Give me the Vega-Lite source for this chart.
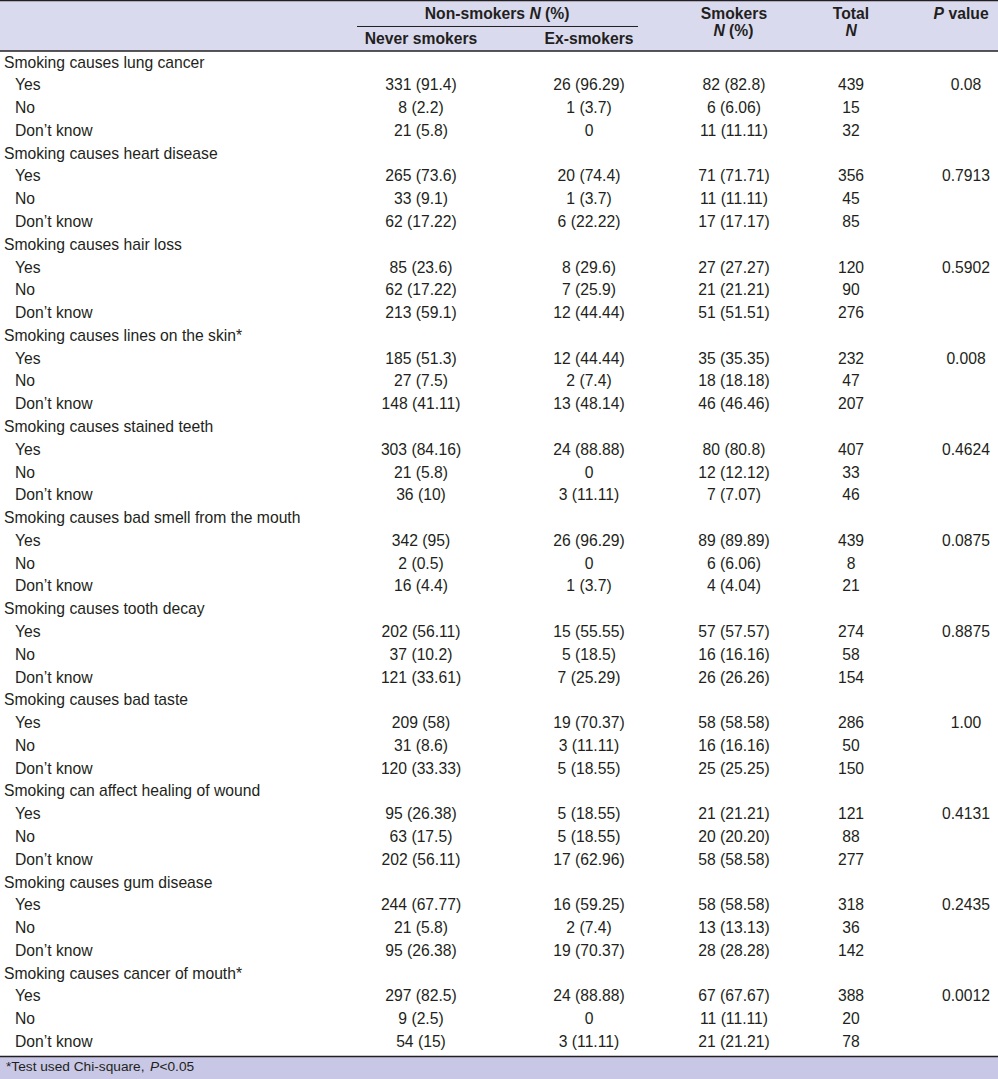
{
  "$schema": "https://vega.github.io/schema/vega-lite/v6.json",
  "width": 998,
  "height": 1079,
  "autosize": "none",
  "padding": 0,
  "background": "white",
  "config": {
    "view": {"stroke": null},
    "text": {"font": "Liberation Sans", "fontSize": 15.7, "fill": "#231f20", "baseline": "middle"}
  },
  "datasets": {
    "rows": [
      {"r": 0, "lvl": 1, "label": "Smoking causes lung cancer"},
      {"r": 1, "lvl": 2, "label": "Yes", "nv": "331 (91.4)", "ex": "26 (96.29)", "sm": "82 (82.8)", "tot": "439", "p": "0.08"},
      {"r": 2, "lvl": 2, "label": "No", "nv": "8 (2.2)", "ex": "1 (3.7)", "sm": "6 (6.06)", "tot": "15"},
      {"r": 3, "lvl": 2, "label": "Don’t know", "nv": "21 (5.8)", "ex": "0", "sm": "11 (11.11)", "tot": "32"},
      {"r": 4, "lvl": 1, "label": "Smoking causes heart disease"},
      {"r": 5, "lvl": 2, "label": "Yes", "nv": "265 (73.6)", "ex": "20 (74.4)", "sm": "71 (71.71)", "tot": "356", "p": "0.7913"},
      {"r": 6, "lvl": 2, "label": "No", "nv": "33 (9.1)", "ex": "1 (3.7)", "sm": "11 (11.11)", "tot": "45"},
      {"r": 7, "lvl": 2, "label": "Don’t know", "nv": "62 (17.22)", "ex": "6 (22.22)", "sm": "17 (17.17)", "tot": "85"},
      {"r": 8, "lvl": 1, "label": "Smoking causes hair loss"},
      {"r": 9, "lvl": 2, "label": "Yes", "nv": "85 (23.6)", "ex": "8 (29.6)", "sm": "27 (27.27)", "tot": "120", "p": "0.5902"},
      {"r": 10, "lvl": 2, "label": "No", "nv": "62 (17.22)", "ex": "7 (25.9)", "sm": "21 (21.21)", "tot": "90"},
      {"r": 11, "lvl": 2, "label": "Don’t know", "nv": "213 (59.1)", "ex": "12 (44.44)", "sm": "51 (51.51)", "tot": "276"},
      {"r": 12, "lvl": 1, "label": "Smoking causes lines on the skin*"},
      {"r": 13, "lvl": 2, "label": "Yes", "nv": "185 (51.3)", "ex": "12 (44.44)", "sm": "35 (35.35)", "tot": "232", "p": "0.008"},
      {"r": 14, "lvl": 2, "label": "No", "nv": "27 (7.5)", "ex": "2 (7.4)", "sm": "18 (18.18)", "tot": "47"},
      {"r": 15, "lvl": 2, "label": "Don’t know", "nv": "148 (41.11)", "ex": "13 (48.14)", "sm": "46 (46.46)", "tot": "207"},
      {"r": 16, "lvl": 1, "label": "Smoking causes stained teeth"},
      {"r": 17, "lvl": 2, "label": "Yes", "nv": "303 (84.16)", "ex": "24 (88.88)", "sm": "80 (80.8)", "tot": "407", "p": "0.4624"},
      {"r": 18, "lvl": 2, "label": "No", "nv": "21 (5.8)", "ex": "0", "sm": "12 (12.12)", "tot": "33"},
      {"r": 19, "lvl": 2, "label": "Don’t know", "nv": "36 (10)", "ex": "3 (11.11)", "sm": "7 (7.07)", "tot": "46"},
      {"r": 20, "lvl": 1, "label": "Smoking causes bad smell from the mouth"},
      {"r": 21, "lvl": 2, "label": "Yes", "nv": "342 (95)", "ex": "26 (96.29)", "sm": "89 (89.89)", "tot": "439", "p": "0.0875"},
      {"r": 22, "lvl": 2, "label": "No", "nv": "2 (0.5)", "ex": "0", "sm": "6 (6.06)", "tot": "8"},
      {"r": 23, "lvl": 2, "label": "Don’t know", "nv": "16 (4.4)", "ex": "1 (3.7)", "sm": "4 (4.04)", "tot": "21"},
      {"r": 24, "lvl": 1, "label": "Smoking causes tooth decay"},
      {"r": 25, "lvl": 2, "label": "Yes", "nv": "202 (56.11)", "ex": "15 (55.55)", "sm": "57 (57.57)", "tot": "274", "p": "0.8875"},
      {"r": 26, "lvl": 2, "label": "No", "nv": "37 (10.2)", "ex": "5 (18.5)", "sm": "16 (16.16)", "tot": "58"},
      {"r": 27, "lvl": 2, "label": "Don’t know", "nv": "121 (33.61)", "ex": "7 (25.29)", "sm": "26 (26.26)", "tot": "154"},
      {"r": 28, "lvl": 1, "label": "Smoking causes bad taste"},
      {"r": 29, "lvl": 2, "label": "Yes", "nv": "209 (58)", "ex": "19 (70.37)", "sm": "58 (58.58)", "tot": "286", "p": "1.00"},
      {"r": 30, "lvl": 2, "label": "No", "nv": "31 (8.6)", "ex": "3 (11.11)", "sm": "16 (16.16)", "tot": "50"},
      {"r": 31, "lvl": 2, "label": "Don’t know", "nv": "120 (33.33)", "ex": "5 (18.55)", "sm": "25 (25.25)", "tot": "150"},
      {"r": 32, "lvl": 1, "label": "Smoking can affect healing of wound"},
      {"r": 33, "lvl": 2, "label": "Yes", "nv": "95 (26.38)", "ex": "5 (18.55)", "sm": "21 (21.21)", "tot": "121", "p": "0.4131"},
      {"r": 34, "lvl": 2, "label": "No", "nv": "63 (17.5)", "ex": "5 (18.55)", "sm": "20 (20.20)", "tot": "88"},
      {"r": 35, "lvl": 2, "label": "Don’t know", "nv": "202 (56.11)", "ex": "17 (62.96)", "sm": "58 (58.58)", "tot": "277"},
      {"r": 36, "lvl": 1, "label": "Smoking causes gum disease"},
      {"r": 37, "lvl": 2, "label": "Yes", "nv": "244 (67.77)", "ex": "16 (59.25)", "sm": "58 (58.58)", "tot": "318", "p": "0.2435"},
      {"r": 38, "lvl": 2, "label": "No", "nv": "21 (5.8)", "ex": "2 (7.4)", "sm": "13 (13.13)", "tot": "36"},
      {"r": 39, "lvl": 2, "label": "Don’t know", "nv": "95 (26.38)", "ex": "19 (70.37)", "sm": "28 (28.28)", "tot": "142"},
      {"r": 40, "lvl": 1, "label": "Smoking causes cancer of mouth*"},
      {"r": 41, "lvl": 2, "label": "Yes", "nv": "297 (82.5)", "ex": "24 (88.88)", "sm": "67 (67.67)", "tot": "388", "p": "0.0012"},
      {"r": 42, "lvl": 2, "label": "No", "nv": "9 (2.5)", "ex": "0", "sm": "11 (11.11)", "tot": "20"},
      {"r": 43, "lvl": 2, "label": "Don’t know", "nv": "54 (15)", "ex": "3 (11.11)", "sm": "21 (21.21)", "tot": "78"}
    ],
    "hdr": [
      {"s": "cb", "c": 3, "r": -1.032, "t": "Never smokers"},
      {"s": "cb", "c": 4, "r": -1.032, "t": "Ex-smokers"},
      {"s": "cb", "c": 5, "r": -2.129, "t": "Smokers"},
      {"s": "cb", "c": 6, "r": -2.129, "t": "Total"},
      {"s": "rb", "c": 14, "r": -2.129, "t": "Non-smokers"},
      {"s": "lbi", "c": 15, "r": -2.129, "t": "N"},
      {"s": "lb", "c": 16, "r": -2.129, "t": "(%)"},
      {"s": "lbi", "c": 17, "r": -1.383, "t": "N"},
      {"s": "lb", "c": 18, "r": -1.383, "t": "(%)"},
      {"s": "lbi", "c": 19, "r": -1.383, "t": "N"},
      {"s": "lbi", "c": 20, "r": -2.129, "t": "P"},
      {"s": "lb", "c": 21, "r": -2.129, "t": "value"},
      {"s": "fl", "c": 9, "r": 44.098, "t": "*Test used Chi-square,"},
      {"s": "fli", "c": 10, "r": 44.098, "t": "P"},
      {"s": "fl", "c": 11, "r": 44.098, "t": "<0.05"}
    ],
    "bands": [
      {"r1": -2.744, "r2": -0.505, "k": "head"},
      {"r1": 43.637, "r2": 44.7, "k": "foot"}
    ],
    "lines": [
      {"y": -2.722, "c1": 0, "c2": 8, "w": 1.5},
      {"y": -1.581, "c1": 12, "c2": 13, "w": 1},
      {"y": -0.505, "c1": 0, "c2": 8, "w": 1.5},
      {"y": 43.637, "c1": 0, "c2": 8, "w": 1.5}
    ]
  },
  "encoding": {
    "y": {"field": "r", "type": "quantitative", "axis": null,
      "scale": {"domain": [-2.744, 44.624], "reverse": true, "nice": false, "zero": false}}
  },
  "layer": [
    {
      "data": {"name": "bands"},
      "mark": {"type": "rect"},
      "encoding": {
        "x": {"datum": 0, "type": "quantitative", "axis": null,
          "scale": {"domain": [0,1,2,3,4,5,6,7,8,9,10,11,12,13,14,15,16,17,18,19,20,21],
                    "range": [0,4,15,421,589,734,851,966,998,6,150,159.5,357,638,525,529.5,545,713.5,729,845.5,933.5,948.5],
                    "nice": false, "zero": false}},
        "x2": {"datum": 8},
        "y": {"field": "r1", "type": "quantitative"},
        "y2": {"field": "r2"},
        "color": {"field": "k", "type": "nominal", "legend": null,
          "scale": {"domain": ["head", "foot"], "range": ["#dadaef", "#c8c8e6"]}}
      }
    },
    {
      "data": {"name": "lines"},
      "mark": {"type": "rule", "color": "#231f20"},
      "encoding": {
        "x": {"field": "c1", "type": "quantitative"},
        "x2": {"field": "c2"},
        "y": {"field": "y", "type": "quantitative"},
        "strokeWidth": {"field": "w", "type": "quantitative", "scale": null}
      }
    },
    {
      "data": {"name": "rows"},
      "mark": {"type": "text", "align": "left"},
      "encoding": {
        "x": {"field": "lvl", "type": "quantitative"},
        "text": {"field": "label"}
      }
    },
    {
      "data": {"name": "rows"},
      "transform": [{"filter": "datum.lvl == 2"}],
      "mark": {"type": "text", "align": "center"},
      "encoding": {"x": {"datum": 3, "type": "quantitative"}, "text": {"field": "nv"}}
    },
    {
      "data": {"name": "rows"},
      "transform": [{"filter": "datum.lvl == 2"}],
      "mark": {"type": "text", "align": "center"},
      "encoding": {"x": {"datum": 4, "type": "quantitative"}, "text": {"field": "ex"}}
    },
    {
      "data": {"name": "rows"},
      "transform": [{"filter": "datum.lvl == 2"}],
      "mark": {"type": "text", "align": "center"},
      "encoding": {"x": {"datum": 5, "type": "quantitative"}, "text": {"field": "sm"}}
    },
    {
      "data": {"name": "rows"},
      "transform": [{"filter": "datum.lvl == 2"}],
      "mark": {"type": "text", "align": "center"},
      "encoding": {"x": {"datum": 6, "type": "quantitative"}, "text": {"field": "tot"}}
    },
    {
      "data": {"name": "rows"},
      "transform": [{"filter": {"field": "p", "valid": true}}],
      "mark": {"type": "text", "align": "center"},
      "encoding": {"x": {"datum": 7, "type": "quantitative"}, "text": {"field": "p"}}
    },
    {
      "data": {"name": "hdr"},
      "transform": [{"filter": "datum.s == 'cb'"}],
      "mark": {"type": "text", "align": "center", "fontWeight": "bold"},
      "encoding": {"x": {"field": "c", "type": "quantitative"}, "y": {"field": "r", "type": "quantitative"}, "text": {"field": "t"}}
    },
    {
      "data": {"name": "hdr"},
      "transform": [{"filter": "datum.s == 'rb'"}],
      "mark": {"type": "text", "align": "right", "fontWeight": "bold"},
      "encoding": {"x": {"field": "c", "type": "quantitative"}, "y": {"field": "r", "type": "quantitative"}, "text": {"field": "t"}}
    },
    {
      "data": {"name": "hdr"},
      "transform": [{"filter": "datum.s == 'lb'"}],
      "mark": {"type": "text", "align": "left", "fontWeight": "bold"},
      "encoding": {"x": {"field": "c", "type": "quantitative"}, "y": {"field": "r", "type": "quantitative"}, "text": {"field": "t"}}
    },
    {
      "data": {"name": "hdr"},
      "transform": [{"filter": "datum.s == 'lbi'"}],
      "mark": {"type": "text", "align": "left", "fontWeight": "bold", "fontStyle": "italic"},
      "encoding": {"x": {"field": "c", "type": "quantitative"}, "y": {"field": "r", "type": "quantitative"}, "text": {"field": "t"}}
    },
    {
      "data": {"name": "hdr"},
      "transform": [{"filter": "datum.s == 'fl'"}],
      "mark": {"type": "text", "align": "left", "fontSize": 13.7},
      "encoding": {"x": {"field": "c", "type": "quantitative"}, "y": {"field": "r", "type": "quantitative"}, "text": {"field": "t"}}
    },
    {
      "data": {"name": "hdr"},
      "transform": [{"filter": "datum.s == 'fli'"}],
      "mark": {"type": "text", "align": "left", "fontSize": 13.7, "fontStyle": "italic"},
      "encoding": {"x": {"field": "c", "type": "quantitative"}, "y": {"field": "r", "type": "quantitative"}, "text": {"field": "t"}}
    }
  ]
}
